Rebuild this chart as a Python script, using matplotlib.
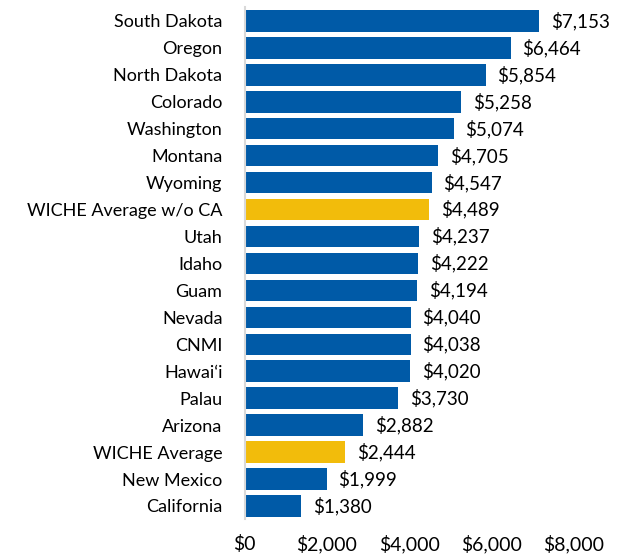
import matplotlib.pyplot as plt

states = ["South Dakota", "Oregon", "North Dakota", "Colorado", "Washington",
          "Montana", "Wyoming", "WICHE Average w/o CA", "Utah", "Idaho", "Guam",
          "Nevada", "CNMI", "Hawai\u2018i", "Palau", "Arizona", "WICHE Average",
          "New Mexico", "California"]
values = [7153, 6464, 5854, 5258, 5074, 4705, 4547, 4489, 4237, 4222, 4194,
          4040, 4038, 4020, 3730, 2882, 2444, 1999, 1380]
xticks = [0, 2000, 4000, 6000, 8000]

blue = "#005AA7"
gold = "#F2BC0B"

plt.rcParams['font.family'] = ['Lato', 'DejaVu Sans']

fig = plt.figure(figsize=(6.24, 5.56), dpi=100)
ax = fig.add_axes([0.392, 0.0657, 0.528, 0.921])

n = len(states)
ypos = list(range(n))[::-1]
colors = [gold if "WICHE" in s else blue for s in states]
ax.barh(ypos, values, height=0.8, color=colors, zorder=2)

for y, v in zip(ypos, values):
    ax.text(v + 280, y, "${:,}".format(v), va="center", ha="left",
            fontsize=13.5, clip_on=False)

ax.set_yticks(ypos)
ax.set_yticklabels(states, fontsize=13)
ax.set_ylim(-0.5, n - 0.5)
ax.set_xlim(0, 8000)
ax.set_xticks(xticks)
ax.set_xticklabels(["${:,}".format(t) for t in xticks], fontsize=14)

for s in ["top", "right", "bottom"]:
    ax.spines[s].set_visible(False)
ax.spines["left"].set_color("#D9D9D9")
ax.spines["left"].set_linewidth(1.5)
ax.tick_params(axis="both", length=0)
ax.tick_params(axis="y", pad=16)
ax.tick_params(axis="x", pad=11)

fig.savefig("out.png", dpi=100)
